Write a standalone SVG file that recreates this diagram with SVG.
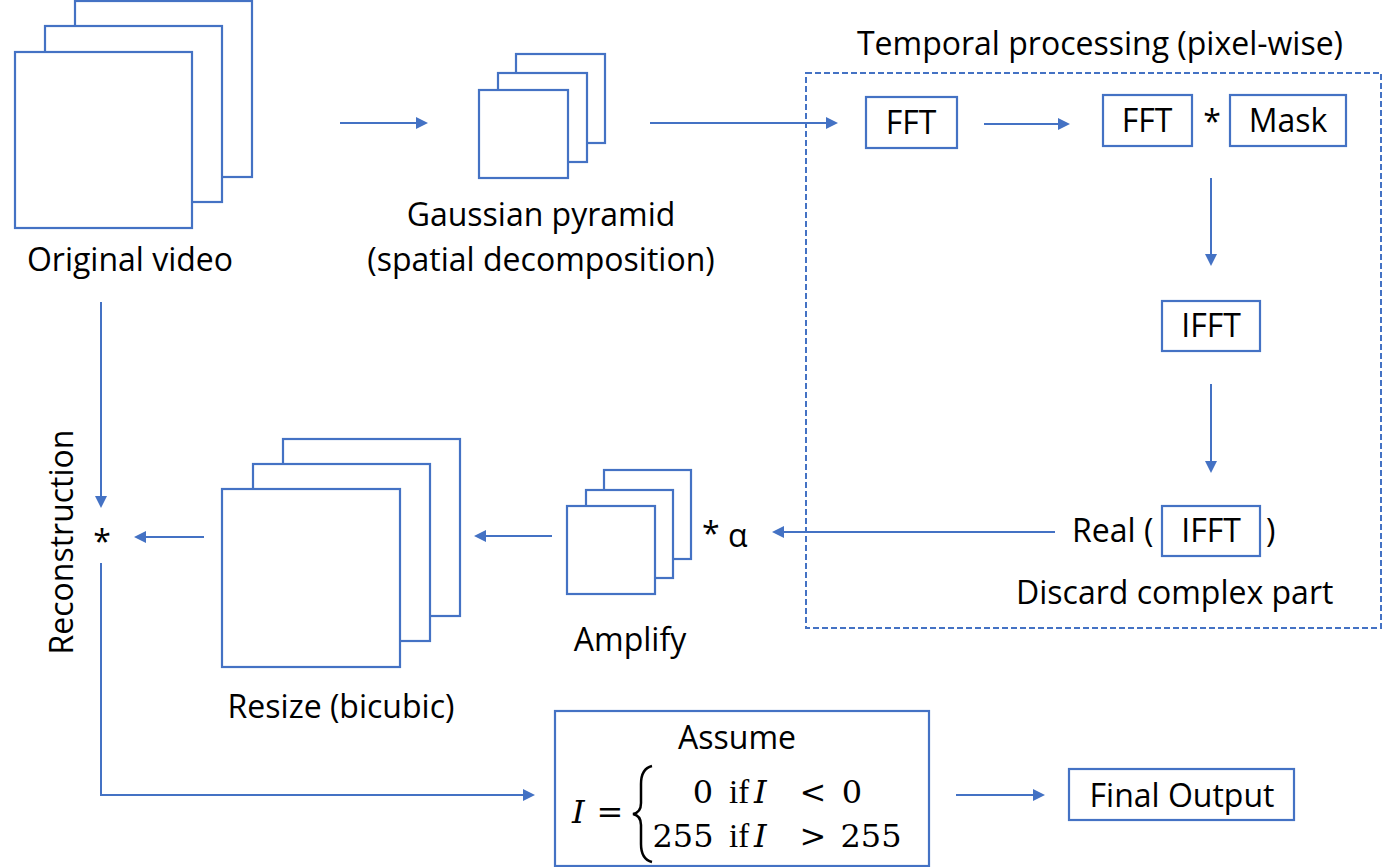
<svg xmlns="http://www.w3.org/2000/svg" width="1384" height="867" viewBox="0 0 1384 867">
<defs>
<marker id="ah" markerUnits="userSpaceOnUse" markerWidth="12" markerHeight="12" viewBox="0 0 12 12" refX="10" refY="6" orient="auto">
<path d="M0,0 L12,6 L0,12 z" fill="#4472C4"/>
</marker>
<style>
.fr{fill:#fff;stroke:#4472C4;stroke-width:2.2}
.bx{fill:none;stroke:#4472C4;stroke-width:2.2}
.cn{fill:none;stroke:#4472C4;stroke-width:2;marker-end:url(#ah)}
.t{font-family:"Open Sans","Noto Sans",sans-serif;font-size:32px;fill:#000}
.m{font-family:"DejaVu Serif","Liberation Serif",serif;font-size:32px;fill:#000}
.mf{font-family:"Liberation Serif","DejaVu Serif",serif;font-size:33px;fill:#000}
.mi{font-style:italic}
.c{text-anchor:middle}
</style>
</defs>
<rect width="1384" height="867" fill="#fff"/>

<g id="original-video">
<rect class="fr" x="75" y="1" width="177" height="176"/>
<rect class="fr" x="45" y="26" width="177" height="176"/>
<rect class="fr" x="15" y="52" width="177" height="176"/>
<text class="t c" x="130" y="271">Original video</text>
</g>

<g id="gaussian-pyramid">
<rect class="fr" x="516" y="54" width="89" height="89"/>
<rect class="fr" x="498" y="73" width="89" height="89"/>
<rect class="fr" x="479" y="90" width="89" height="88"/>
<text class="t c" x="541" y="226">Gaussian pyramid</text>
<text class="t c" x="541" y="271">(spatial decomposition)</text>
</g>

<g id="temporal-processing">
<rect x="806" y="73" width="575" height="555" fill="none" stroke="#4472C4" stroke-width="2" stroke-dasharray="6 3"/>
<text class="t c" x="1100" y="55">Temporal processing (pixel-wise)</text>
</g>

<g id="fft">
<rect class="bx" x="866" y="97" width="91" height="51"/>
<text class="t c" x="911" y="134">FFT</text>
</g>

<g id="fft-mask">
<rect class="bx" x="1103" y="95" width="89" height="51"/>
<text class="t c" x="1147" y="132">FFT</text>
<text class="t c" x="1212" y="133">*</text>
<rect class="bx" x="1230" y="95" width="116" height="51"/>
<text class="t c" x="1288" y="132">Mask</text>
</g>

<g id="ifft">
<rect class="bx" x="1162" y="301" width="98" height="50"/>
<text class="t c" x="1211" y="337">IFFT</text>
</g>

<g id="real-ifft">
<text class="t" x="1072" y="542">Real (</text>
<rect class="bx" x="1162" y="506" width="98" height="50"/>
<text class="t c" x="1211" y="542">IFFT</text>
<text class="t" x="1266" y="542">)</text>
<text class="t" x="1016" y="604">Discard complex part</text>
</g>

<g id="amplify">
<rect class="fr" x="604" y="470" width="87" height="89"/>
<rect class="fr" x="586" y="490" width="87" height="88"/>
<rect class="fr" x="567" y="506" width="88" height="88"/>
<text class="t" x="702" y="545">*</text>
<text class="t" x="728" y="547">α</text>
<text class="t c" x="630" y="651">Amplify</text>
</g>

<g id="resize">
<rect class="fr" x="283" y="439" width="177" height="177"/>
<rect class="fr" x="253" y="464" width="177" height="177"/>
<rect class="fr" x="222" y="489" width="178" height="178"/>
<text class="t c" x="341" y="718">Resize (bicubic)</text>
</g>

<g id="reconstruction">
<text class="t c" x="102" y="553">*</text>
<text class="t c" transform="translate(73,542) rotate(-90)">Reconstruction</text>
</g>

<g id="clamp">
<rect class="bx" x="555" y="711" width="374" height="155"/>
<text class="t c" x="737" y="749">Assume</text>
<text class="m mi" x="572" y="823">I</text>
<text class="m c" x="610" y="823">=</text>
<path d="M652,766 C644,768 641,774 641,784 L641,803 C641,809 638,813 633,814 C638,815 641,819 641,825 L641,844 C641,854 644,860 652,862" fill="none" stroke="#000" stroke-width="2.5"/>
<text class="m c" x="703" y="803">0</text>
<text class="mf" x="729" y="803">if</text>
<text class="m mi" x="754" y="803">I</text>
<text class="m c" x="813" y="803">&lt;</text>
<text class="m c" x="852" y="803">0</text>
<text class="m c" x="683" y="847">255</text>
<text class="mf" x="729" y="847">if</text>
<text class="m mi" x="754" y="847">I</text>
<text class="m c" x="813" y="847">&gt;</text>
<text class="m c" x="871" y="847">255</text>
</g>

<g id="final-output">
<rect class="bx" x="1069" y="769" width="225" height="51"/>
<text class="t c" x="1182" y="807">Final Output</text>
</g>

<g id="connectors">
<path class="cn" d="M340,123 H426"/>
<path class="cn" d="M650,123 H836"/>
<path class="cn" d="M984,124 H1068"/>
<path class="cn" d="M1211,178 V264"/>
<path class="cn" d="M1211,384 V471"/>
<path class="cn" d="M1055,532 H774"/>
<path class="cn" d="M552,536 H476"/>
<path class="cn" d="M204,537 H136"/>
<path class="cn" d="M101,302 V506"/>
<path class="cn" d="M101,563 V795 H533"/>
<path class="cn" d="M956,795 H1043"/>
</g>
</svg>
